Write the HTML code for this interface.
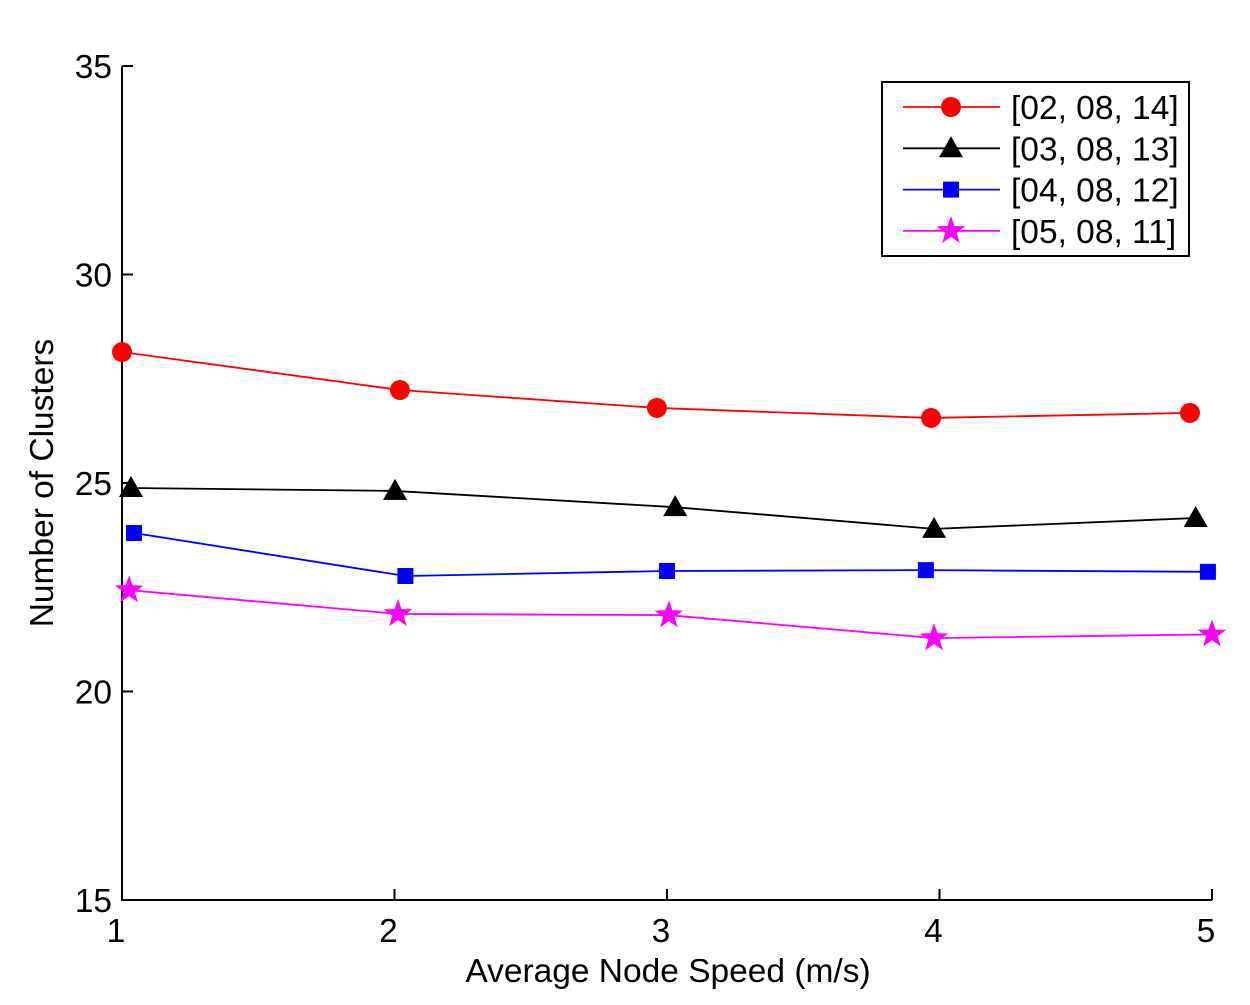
<!DOCTYPE html>
<html><head><meta charset="utf-8"><style>
html,body{margin:0;padding:0;background:#fff;}
svg text{font-family:"Liberation Sans",Arial,sans-serif;}
</style></head><body>
<svg id="chart" width="1250" height="1000" xmlns="http://www.w3.org/2000/svg">
<g id="axes"></g><g id="series"></g><g id="legend"></g>
</svg>
<script>
const xTicks=[1,2,3,4,5];
const yTicks=[15,20,25,30,35];
const seriesNames=["[02, 08, 14]","[03, 08, 13]","[04, 08, 12]","[05, 08, 11]"];
const seriesColors=["#ff0000","#000000","#0000ff","#ff00ff"];
const seriesMarkers=["circle","triangle","square","star"];
const redX=[1.0,2.02,2.963,3.969,4.919];
const redY=[28.14,27.23,26.80,26.56,26.68];
const blackX=[1.033,2.002,3.03,3.98,4.94];
const blackY=[24.88,24.81,24.42,23.90,24.16];
const blueX=[1.044,2.04,3.0,3.95,4.985];
const blueY=[23.80,22.77,22.89,22.91,22.87];
const magentaX=[1.026,2.013,3.007,3.98,5.0];
const magentaY=[22.43,21.86,21.83,21.28,21.37];
const NS="http://www.w3.org/2000/svg";
const X0=122,X1=1212,Y0=900,Y1=66;
const sx=v=>X0+(v-1)/4*(X1-X0);
const sy=v=>Y0-(v-15)/20*(Y0-Y1);
const FS=33.5;
function mk(tag,attrs,parent){const e=document.createElementNS(NS,tag);for(const k in attrs)e.setAttribute(k,attrs[k]);parent.appendChild(e);return e;}
const axes=document.getElementById('axes');
let a=mk('path',{d:`M${X0} ${Y1}V${Y0}H${X1}`,stroke:'#000','stroke-width':2,fill:'none'},axes);


xTicks.forEach(t=>{const x=sx(t);
 let l=mk('line',{x1:x,y1:Y0,x2:x,y2:Y0-11,stroke:'#000','stroke-width':2},axes);
 
 
 let tx=mk('text',{x:x-6,y:Y0+42,'font-size':FS,'text-anchor':'middle'},axes);tx.textContent=t;
 
 
});
yTicks.forEach(t=>{const y=sy(t);
 let l=mk('line',{x1:X0,y1:y,x2:X0+11,y2:y,stroke:'#000','stroke-width':2},axes);
 
 
 let tx=mk('text',{x:X0-10,y:y+12,'font-size':FS,'text-anchor':'end'},axes);tx.textContent=t;
 
 
});
let xl=mk('text',{x:668,y:982,'font-size':FS,'text-anchor':'middle'},axes);xl.textContent="Average Node Speed (m/s)";


let yl=mk('text',{x:0,y:0,'font-size':FS,'text-anchor':'middle',transform:`translate(53,483) rotate(-90)`},axes);yl.textContent="Number of Clusters";


function marker(type,x,y,color,parent){
 let e;
 if(type==='circle')e=mk('circle',{cx:x,cy:y,r:10,fill:color},parent);
 else if(type==='triangle')e=mk('path',{d:`M${x} ${y-12}L${x+12} ${y+9}L${x-12} ${y+9}Z`,fill:color},parent);
 else if(type==='square')e=mk('rect',{x:x-8,y:y-8,width:16,height:16,fill:color},parent);
 else{let p=[];for(let i=0;i<10;i++){const r=i%2?6:15,ang=-Math.PI/2+i*Math.PI/5;p.push((x+r*Math.cos(ang)).toFixed(1)+','+(y+r*Math.sin(ang)).toFixed(1));}
  e=mk('polygon',{points:p.join(' '),fill:color},parent);}
 return e;
}
const allX=[redX,blackX,blueX,magentaX],allY=[redY,blackY,blueY,magentaY];
const sg=document.getElementById('series');
allX.forEach((xs,i)=>{
 const g=mk('g',{},sg);
 
 
 const pl=mk('polyline',{points:xs.map((v,j)=>sx(v)+','+sy(allY[i][j])).join(' '),fill:'none',stroke:seriesColors[i],'stroke-width':1.8},g);
 
 
 xs.forEach((v,j)=>{const m=marker(seriesMarkers[i],sx(v),sy(allY[i][j]),seriesColors[i],g);
  
  });
});
const lg=document.getElementById('legend');
let box=mk('rect',{x:882,y:82,width:307,height:174,fill:'#fff',stroke:'#000','stroke-width':2},lg);


seriesNames.forEach((n,i)=>{const y=107+i*41.3;
 const g=mk('g',{},lg);
 
 
 mk('line',{x1:903,y1:y,x2:1000,y2:y,stroke:seriesColors[i],'stroke-width':1.8},g);
 marker(seriesMarkers[i],951,y,seriesColors[i],g);
 const t=mk('text',{x:1011,y:y+12,'font-size':FS},g);t.textContent=n;
});
</script>
</body></html>
